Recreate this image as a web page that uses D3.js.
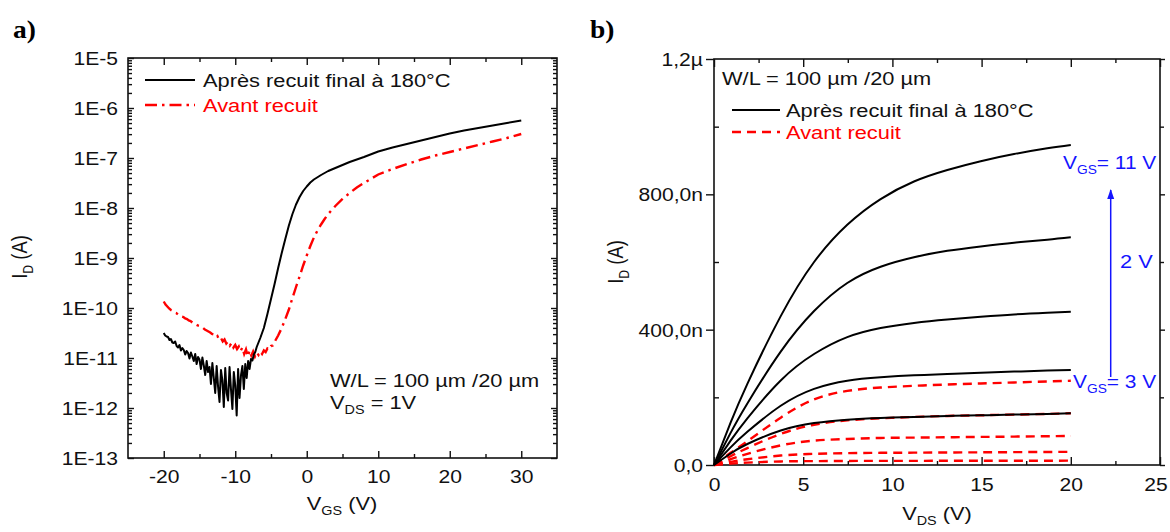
<!DOCTYPE html>
<html><head><meta charset="utf-8">
<script src="https://cdn.jsdelivr.net/npm/d3@7"></script>
<style>
body{margin:0;background:#fff}
svg text{font-family:"Liberation Sans",Arial,Helvetica,sans-serif}
svg text.panel{font-family:"Liberation Serif","Times New Roman",serif;font-weight:bold}
</style>
</head><body>
<svg id="c" width="1170" height="532"></svg>
<script>
// ---------------- DATA ----------------
// Panel a) transfer curves, log10(I_D / A) versus V_GS (V)
const vgsAfter = [-20.0,-19.8,-19.6,-19.4,-19.2,-19.0,-18.8,-18.6,-18.4,-18.2,-18.0,-17.8,-17.6,-17.4,-17.2,-17.0,-16.8,-16.6,-16.4,-16.2,-16.0,-15.8,-15.6,-15.4,-15.2,-15.0,-14.8,-14.6,-14.4,-14.2,-14.0,-13.8,-13.6,-13.4,-13.2,-13.0,-12.8,-12.6,-12.4,-12.2,-12.0,-11.8,-11.6,-11.4,-11.2,-11.0,-10.8,-10.6,-10.4,-10.2,-10.0,-9.8,-9.6,-9.4,-9.2,-9.0,-8.8,-8.6,-8.4,-8.2,-8.0,-7.8,-7.6,-7.4,-7.2,-7.0,-6.5,-6.0,-5.5,-5.0,-4.5,-4.0,-3.5,-3.0,-2.5,-2.0,-1.5,-1.0,-0.5,0,0.5,1,2,3,4,5,6,8,10,12,14,16,18,20,22,24,26,28,30];
const logIdAfter = [-10.50,-10.55,-10.57,-10.58,-10.64,-10.62,-10.69,-10.70,-10.67,-10.76,-10.79,-10.74,-10.85,-10.80,-10.84,-10.93,-10.86,-10.90,-11.01,-10.89,-10.97,-11.06,-10.92,-11.12,-10.98,-11.03,-11.22,-10.99,-11.15,-11.34,-11.06,-11.28,-11.18,-11.52,-11.10,-11.40,-11.70,-11.16,-11.58,-11.88,-11.24,-11.45,-11.98,-11.20,-11.70,-11.85,-11.18,-11.62,-12.02,-11.28,-11.55,-12.15,-11.22,-11.80,-11.35,-11.16,-11.62,-11.12,-11.40,-11.06,-11.22,-11.02,-11.05,-10.93,-10.88,-10.78,-10.60,-10.40,-10.12,-9.82,-9.52,-9.20,-8.90,-8.62,-8.35,-8.12,-7.93,-7.78,-7.66,-7.57,-7.49,-7.43,-7.34,-7.26,-7.20,-7.14,-7.08,-6.98,-6.87,-6.79,-6.72,-6.65,-6.58,-6.51,-6.45,-6.40,-6.35,-6.30,-6.25];
const vgsBefore = [-20,-19.75,-19.5,-19.25,-19,-18.75,-18.5,-18.25,-18,-17.75,-17.5,-17.25,-17,-16.75,-16.5,-16.25,-16,-15.75,-15.5,-15.25,-15,-14.75,-14.5,-14.25,-14,-13.75,-13.5,-13.25,-13,-12.75,-12.5,-12.25,-12,-11.75,-11.5,-11.25,-11,-10.75,-10.5,-10.25,-10,-9.75,-9.5,-9.25,-9,-8.75,-8.5,-8.25,-8,-7.75,-7.5,-7.25,-7,-6.75,-6.5,-6.25,-6,-5.75,-5.5,-5.25,-5,-4.75,-4.5,-4,-3.5,-3,-2.5,-2,-1.5,-1,-0.5,0,0.5,1,1.5,2,2.5,3,4,5,6,7,8,10,12,14,16,18,20,22,24,26,28,30];
const logIdBefore = [-9.87,-9.93,-9.97,-10.01,-10.04,-10.06,-10.09,-10.10,-10.13,-10.14,-10.17,-10.18,-10.21,-10.22,-10.25,-10.26,-10.29,-10.30,-10.33,-10.35,-10.36,-10.39,-10.40,-10.43,-10.45,-10.47,-10.49,-10.52,-10.53,-10.58,-10.56,-10.63,-10.60,-10.67,-10.63,-10.71,-10.67,-10.75,-10.70,-10.79,-10.74,-10.82,-10.77,-10.86,-10.79,-10.92,-10.83,-10.97,-10.85,-10.95,-10.87,-10.97,-10.89,-10.94,-10.87,-10.92,-10.85,-10.88,-10.81,-10.83,-10.76,-10.75,-10.68,-10.55,-10.40,-10.22,-10.03,-9.80,-9.58,-9.37,-9.15,-8.95,-8.76,-8.59,-8.45,-8.33,-8.22,-8.12,-7.96,-7.82,-7.70,-7.59,-7.50,-7.33,-7.22,-7.12,-7.03,-6.95,-6.88,-6.81,-6.74,-6.67,-6.60,-6.52];
const aXTicks = [-20,-10,0,10,20,30];
const aXTickLabels = ["-20","-10","0","10","20","30"];
const aXMinor = [-15,-5,5,15,25];
const aYTicks = [1e-5,1e-6,1e-7,1e-8,1e-9,1e-10,1e-11,1e-12,1e-13];
const aYTickLabels = ["1E-5","1E-6","1E-7","1E-8","1E-9","1E-10","1E-11","1E-12","1E-13"];

// Panel b) output curves, I_D (nA) versus V_DS (V)
const vds = [0,0.93,1.87,3.74,5.61,7.47,9.34,11.21,13.08,14.95,16.82,18.68,20];
const idAfterVgs11 = [0,125,240,440,600,710,786,838,872,898,919,936,946];
const idAfterVgs9  = [0,95,182,335,455,538,586,614,633,646,657,666,673];
const idAfterVgs7  = [0,72,138,250,328,378,405,420,430,438,445,450,453];
const idAfterVgs5  = [0,52,98,175,225,249,259,265,269,273,276,279,281];
const idAfterVgs3  = [0,34,62,102,124,134,139,142,145,147,149,151,153];
const idBeforeVgs11 = [0,36,70,140,194,219,229,234,238,241,244,247,249];
const idBeforeVgs9  = [0,26,50,92,119,132,138,142,145,147,149,151,153];
const idBeforeVgs7  = [0,17,33,58,72,77,80,81,82,83,84,85,86];
const idBeforeVgs5  = [0,9,17,28,33,35,36,36.5,37,37.5,38,38.5,39];
const idBeforeVgs3  = [0,4,7,10.5,11.5,12,12.2,12.3,12.4,12.5,12.6,12.7,12.8];
const bXTicks = [0,5,10,15,20,25];
const bXTickLabels = ["0","5","10","15","20","25"];
const bXMinor = [2.5,7.5,12.5,17.5,22.5];
const bYTicks = [0,400,800,1200];
const bYTickLabels = ["0,0","400,0n","800,0n","1,2µ"];
const bYMinor = [200,600,1000];

// ---------------- DRAWING ----------------
const SX = 1.18, TSX = 1.14, FS = 18.5, INK = "#111";
const svg = d3.select("#c");

function label(g, x, y, parts, o = {}) {
  const size = o.size || FS;
  const sx = o.sx || SX;
  const tf = o.rotate ? `translate(${x},${y}) rotate(-90) scale(1,${sx})` : `translate(${x},${y}) scale(${sx},1)`;
  const t = g.append("text").attr("transform", tf).attr("font-size", size)
    .attr("fill", o.color || INK).attr("text-anchor", o.anchor || "start");
  let sub = false;
  parts.forEach(p => {
    const isSub = p[1] === "sub";
    const s = t.append("tspan").text(p[0]);
    if (isSub) s.attr("font-size", size * 0.66).attr("dy", 5);
    else if (sub) s.attr("dy", -5);
    sub = isSub;
  });
  return t;
}

function frame(b) {
  svg.append("rect").attr("x", b.l).attr("y", b.t).attr("width", b.r - b.l).attr("height", b.b - b.t)
    .attr("fill", "none").attr("stroke", INK).attr("stroke-width", 1.6);
}
function styleAxis(g) {
  g.select(".domain").remove();
  g.selectAll("line").attr("stroke", INK).attr("stroke-width", 1.4);
}
function styleXLabels(g, y) {
  g.selectAll("text").attr("y", y).attr("dy", null).attr("font-size", FS).attr("fill", INK)
    .attr("transform", `scale(${TSX},1)`);
}
function styleYLabels(g, gap) {
  g.selectAll("text").attr("x", -gap / TSX).attr("dy", null).attr("y", 6.5).attr("font-size", FS).attr("fill", INK)
    .attr("transform", `scale(${TSX},1)`);
}

// ===== Panel a =====
const A = {l:128, r:557, t:58, b:458};
const xA = d3.scaleLinear().domain([-25,35]).range([A.l, A.r]);
const yA = d3.scaleLog().domain([1e-13,1e-5]).range([A.b, A.t]);
const aYMinor = [];
for (let e = -13; e < -5; e++) for (let d = 2; d <= 9; d++) aYMinor.push(d * Math.pow(10, e));

let g = svg.append("g").attr("transform", `translate(0,${A.b})`)
  .call(d3.axisBottom(xA).tickValues(aXTicks).tickSize(-7).tickFormat((d,i) => aXTickLabels[i]));
styleAxis(g); styleXLabels(g, 25.5);
g = svg.append("g").attr("transform", `translate(0,${A.b})`).call(d3.axisBottom(xA).tickValues(aXMinor).tickSize(-4).tickFormat(""));
styleAxis(g);
g = svg.append("g").attr("transform", `translate(0,${A.t})`).call(d3.axisTop(xA).tickValues(aXTicks).tickSize(-7).tickFormat(""));
styleAxis(g);
g = svg.append("g").attr("transform", `translate(0,${A.t})`).call(d3.axisTop(xA).tickValues(aXMinor).tickSize(-4).tickFormat(""));
styleAxis(g);
g = svg.append("g").attr("transform", `translate(${A.l},0)`)
  .call(d3.axisLeft(yA).tickValues(aYTicks).tickSize(-6).tickFormat((d,i) => aYTickLabels[i]));
styleAxis(g); styleYLabels(g, 10);
g = svg.append("g").attr("transform", `translate(${A.l},0)`).call(d3.axisLeft(yA).tickValues(aYMinor).tickSize(-4).tickFormat(""));
styleAxis(g);
g = svg.append("g").attr("transform", `translate(${A.r},0)`).call(d3.axisRight(yA).tickValues(aYTicks).tickSize(-6).tickFormat(""));
styleAxis(g);
g = svg.append("g").attr("transform", `translate(${A.r},0)`).call(d3.axisRight(yA).tickValues(aYMinor).tickSize(-4).tickFormat(""));
styleAxis(g);
frame(A);

const lineA = d3.line().x(d => xA(d[0])).y(d => yA(Math.pow(10, d[1])));
svg.append("path").datum(vgsBefore.map((v,i) => [v, logIdBefore[i]]))
  .attr("d", lineA).attr("fill", "none").attr("stroke", "#ff0000").attr("stroke-width", 2.4)
  .attr("stroke-dasharray", "12,5,2.5,5");
svg.append("path").datum(vgsAfter.map((v,i) => [v, logIdAfter[i]]))
  .attr("d", lineA).attr("fill", "none").attr("stroke", "#000").attr("stroke-width", 2)
  .attr("stroke-linejoin", "round");

svg.append("line").attr("x1", 145).attr("x2", 195).attr("y1", 80).attr("y2", 80).attr("stroke", "#000").attr("stroke-width", 2);
label(svg, 203, 87, [["Après recuit final à 180°C"]]);
svg.append("line").attr("x1", 145).attr("x2", 195).attr("y1", 105).attr("y2", 105).attr("stroke", "#ff0000").attr("stroke-width", 2.4)
  .attr("stroke-dasharray", "12,5,2.5,5");
label(svg, 203, 111.5, [["Avant recuit"]], {color: "#ff0000"});
label(svg, 330, 387, [["W/L = 100 µm /20 µm"]]);
label(svg, 330, 409, [["V"], ["DS", "sub"], [" = 1V"]]);
label(svg, 342, 510, [["V"], ["GS", "sub"], [" (V)"]], {anchor: "middle"});
label(svg, 27, 257, [["I"], ["D", "sub"], [" (A)"]], {anchor: "middle", rotate: true});
svg.append("text").attr("class", "panel").attr("font-size", 25)
  .attr("transform", "translate(13,38) scale(1.1,1)").text("a)");

// ===== Panel b =====
const B = {l:714, r:1160, t:59, b:465};
const xB = d3.scaleLinear().domain([0,25]).range([B.l, B.r]);
const yB = d3.scaleLinear().domain([0,1200]).range([B.b, B.t]);

g = svg.append("g").attr("transform", `translate(0,${B.b})`)
  .call(d3.axisBottom(xB).tickValues(bXTicks).tickSize(-8).tickFormat((d,i) => bXTickLabels[i]));
styleAxis(g); styleXLabels(g, 26);
g.selectAll("text").filter((d,i) => i === bXTicks.length - 1).attr("x", -4);
g = svg.append("g").attr("transform", `translate(0,${B.b})`).call(d3.axisBottom(xB).tickValues(bXMinor).tickSize(-4).tickFormat(""));
styleAxis(g);
g = svg.append("g").attr("transform", `translate(0,${B.t})`).call(d3.axisTop(xB).tickValues(bXTicks).tickSize(-8).tickFormat(""));
styleAxis(g);
g = svg.append("g").attr("transform", `translate(0,${B.t})`).call(d3.axisTop(xB).tickValues(bXMinor).tickSize(-4).tickFormat(""));
styleAxis(g);
g = svg.append("g").attr("transform", `translate(${B.l},0)`)
  .call(d3.axisLeft(yB).tickValues(bYTicks).tickSize(8).tickFormat((d,i) => bYTickLabels[i]));
styleAxis(g); styleYLabels(g, 11);
g = svg.append("g").attr("transform", `translate(${B.l},0)`).call(d3.axisLeft(yB).tickValues(bYMinor).tickSize(-5).tickFormat(""));
styleAxis(g);
g = svg.append("g").attr("transform", `translate(${B.r},0)`).call(d3.axisRight(yB).tickValues(bYTicks).tickSize(5).tickFormat(""));
styleAxis(g);
g = svg.append("g").attr("transform", `translate(${B.r},0)`).call(d3.axisRight(yB).tickValues(bYMinor).tickSize(4).tickFormat(""));
styleAxis(g);
frame(B);

const lineB = d3.line().x(d => xB(d[0])).y(d => yB(d[1])).curve(d3.curveNatural);
[idBeforeVgs11, idBeforeVgs9, idBeforeVgs7, idBeforeVgs5, idBeforeVgs3].forEach(arr => {
  svg.append("path").datum(vds.map((v,i) => [v, arr[i]])).attr("d", lineB)
    .attr("fill", "none").attr("stroke", "#ff0000").attr("stroke-width", 2.4).attr("stroke-dasharray", "9,6");
});
[idAfterVgs11, idAfterVgs9, idAfterVgs7, idAfterVgs5, idAfterVgs3].forEach(arr => {
  svg.append("path").datum(vds.map((v,i) => [v, arr[i]])).attr("d", lineB)
    .attr("fill", "none").attr("stroke", "#000").attr("stroke-width", 2);
});

label(svg, 722, 85, [["W/L = 100 µm /20 µm"]]);
svg.append("line").attr("x1", 732).attr("x2", 780).attr("y1", 110).attr("y2", 110).attr("stroke", "#000").attr("stroke-width", 2);
label(svg, 786, 117, [["Après recuit final à 180°C"]]);
svg.append("line").attr("x1", 732).attr("x2", 780).attr("y1", 132).attr("y2", 132).attr("stroke", "#ff0000").attr("stroke-width", 2.4).attr("stroke-dasharray", "9,6");
label(svg, 786, 139, [["Avant recuit"]], {color: "#ff0000"});
label(svg, 937, 520, [["V"], ["DS", "sub"], [" (V)"]], {anchor: "middle"});
label(svg, 623, 262, [["I"], ["D", "sub"], [" (A)"]], {anchor: "middle", rotate: true});
svg.append("text").attr("class", "panel").attr("font-size", 25)
  .attr("transform", "translate(590,38) scale(1.1,1)").text("b)");

// blue annotation
const BLUE = "#1414ff";
svg.append("defs").append("marker").attr("id", "ah").attr("viewBox", "0 0 10 10").attr("refX", 9).attr("refY", 5)
  .attr("markerWidth", 10).attr("markerHeight", 10).attr("markerUnits", "userSpaceOnUse").attr("orient", "auto")
  .append("path").attr("d", "M0,1.5 L10,5 L0,8.5 Z").attr("fill", BLUE);
svg.append("line").attr("x1", 1110.7).attr("x2", 1110.7).attr("y1", 377).attr("y2", 190)
  .attr("stroke", BLUE).attr("stroke-width", 1.5).attr("marker-end", "url(#ah)");
label(svg, 1063, 169, [["V"], ["GS", "sub"], ["= 11 V"]], {color: BLUE, sx: 1.13});
label(svg, 1120, 268, [["2 V"]], {color: BLUE});
label(svg, 1073, 388, [["V"], ["GS", "sub"], ["= 3 V"]], {color: BLUE, sx: 1.13});
</script>
</body></html>
